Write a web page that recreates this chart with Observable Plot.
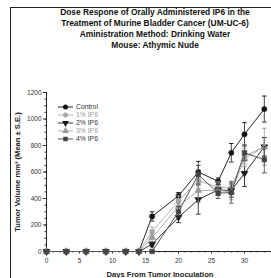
<!DOCTYPE html>
<html><head><meta charset="utf-8">
<script src="https://cdn.jsdelivr.net/npm/d3@7"></script>
<script src="https://cdn.jsdelivr.net/npm/@observablehq/plot@0.6"></script>
<style>
html,body{margin:0;padding:0;background:#fff;overflow:hidden;width:271px;height:278px;}
body{position:relative;font-family:"Liberation Sans",Arial,sans-serif;}
#frame{position:absolute;left:10px;top:7px;width:270px;height:280px;border-left:1px solid #222;border-top:1px solid #222;}
#title{position:absolute;left:40px;width:230px;top:7px;text-align:center;font-weight:bold;font-size:8.4px;line-height:11px;color:#111;}
#chart{position:absolute;left:0;top:52px;}
#ylab{position:absolute;left:17px;top:172px;transform:translate(-50%,-50%) rotate(-90deg);white-space:nowrap;font-weight:bold;font-size:7.6px;color:#222;}
#xlab{position:absolute;left:160px;top:274px;transform:translate(-50%,-50%);white-space:nowrap;font-weight:bold;font-size:7.6px;color:#222;}
#legend{position:absolute;left:58px;top:103px;font-size:6.8px;line-height:8px;}
#legend div{display:flex;align-items:center;height:8px;}
#legend svg{margin-right:3px;}
</style>
</head><body>
<div id="frame"></div>
<div id="title">Dose Respone of Orally Administered IP6 in the<br>Treatment of Murine Bladder Cancer (UM-UC-6)<br>Aministration Method: Drinking Water<br>Mouse: Athymic Nude</div>
<div id="chart"></div>
<div id="ylab">Tumor Volume mm³ (Mean ± S.E.)</div>
<div id="xlab">Days From Tumor Inoculation</div>
<div id="legend"></div>
<script>
const days = [0,3,6,9,12,14,16,20,23,26,28,30,33];
const seriesNames = ["Control","1% IP6","2% IP6","3% IP6","4% IP6"];
const control   = [0,0,0,0,0,0,265,420,600,530,745,885,1075];
const controlSE = [0,0,0,0,0,0,35,25,80,25,70,88,98];
const ip1   = [0,0,0,0,0,0,150,380,535,485,480,720,790];
const ip1SE = [0,0,0,0,0,0,35,40,60,40,50,60,70];
const ip2   = [0,0,0,0,0,0,55,258,392,465,460,590,790];
const ip2SE = [0,0,0,0,0,0,20,40,110,40,50,100,70];
const ip3   = [0,0,0,0,0,0,105,340,460,460,450,700,790];
const ip3SE = [0,0,0,0,0,0,30,40,90,40,60,60,140];
const ip4   = [0,0,0,0,0,0,0,300,580,440,445,745,693];
const ip4SE = [0,0,0,0,0,0,5,40,70,40,80,60,100];
const yTicks = [0,200,400,600,800,1000,1200];
const xTicks = [0,5,10,15,20,25,30,35];

const triDown = {draw(ctx, size){const y=-Math.sqrt(size/(Math.sqrt(3)*3));ctx.moveTo(0,-2*y);ctx.lineTo(-Math.sqrt(3)*y,y);ctx.lineTo(Math.sqrt(3)*y,y);ctx.closePath();}};
const capSym = {draw(ctx, size){const r=Math.sqrt(size/Math.PI);ctx.moveTo(-r,0);ctx.lineTo(r,0);}};
const styles = [
  {color:"#151515", line:"#222", symbol:"circle"},
  {color:"#a8a8a8", line:"#b4b4b4", symbol:"circle"},
  {color:"#151515", line:"#333", symbol:triDown},
  {color:"#999", line:"#b0b0b0", symbol:"triangle"},
  {color:"#444", line:"#555", symbol:"square"}
];
const vals = [control, ip1, ip2, ip3, ip4];
const ses = [controlSE, ip1SE, ip2SE, ip3SE, ip4SE];

const marks = [];
seriesNames.forEach((name, i) => {
  const data = days.map((d, j) => ({day:d, v:vals[i][j], se:ses[i][j]}));
  const eb = data.filter(d => d.se > 0);
  const s = styles[i];
  marks.push(Plot.line(data, {x:"day", y:"v", stroke:s.line, strokeWidth:1}));
  marks.push(Plot.ruleX(eb, {x:"day", y1:d=>d.v-d.se, y2:d=>d.v+d.se, stroke:s.color, strokeWidth:0.8}));
  marks.push(Plot.dot(eb, {x:"day", y:d=>d.v+d.se, symbol:capSym, r:2.3, stroke:s.color, fill:"none", strokeWidth:0.9}));
  marks.push(Plot.dot(eb, {x:"day", y:d=>d.v-d.se, symbol:capSym, r:2.3, stroke:s.color, fill:"none", strokeWidth:0.9}));
  marks.push(Plot.dot(data, {x:"day", y:"v", symbol:s.symbol, r:2.6, fill:s.color, stroke:s.color, strokeWidth:0.5}));
});

const chart = Plot.plot({
  width: 278, height: 226,
  marginLeft: 46, marginRight: 1, marginTop: 40, marginBottom: 27,
  style: {fontFamily:"'Liberation Sans', Arial, sans-serif", maxWidth:"none", overflow:"visible", background:"transparent"},
  x: {domain:[0,35], label: null},
  y: {domain:[0,1200], label: null},
  marks: [
    Plot.axisY({ticks: d3.range(0,1201,50), tickSize: 1.5, tickFormat: () => "", stroke:"#333", label: null}),
    Plot.axisY({ticks: yTicks, tickSize: 3, tickPadding: 2, tickFormat: d => String(d), fontSize: 6.5, fill:"#333", stroke:"#333", label: null}),
    Plot.axisX({ticks: d3.range(0,36,1), tickSize: 1.5, tickFormat: () => "", stroke:"#333", label: null}),
    Plot.axisX({ticks: xTicks, tickSize: 2.5, tickPadding: 4, tickFormat: d => String(d), fontSize: 6.5, fill:"#333", stroke:"#333", label: null}),
    Plot.ruleX([0], {stroke:"#222"}),
    Plot.ruleY([0], {stroke:"#222"}),
    ...marks
  ]
});
document.getElementById("chart").appendChild(chart);

const leg = document.getElementById("legend");
seriesNames.forEach((name, i) => {
  const s = styles[i];
  const row = document.createElement("div");
  const sym = typeof s.symbol === "string" ? {circle:d3.symbolCircle, triangle:d3.symbolTriangle, square:d3.symbolSquare}[s.symbol] : s.symbol;
  const path = d3.symbol(sym, 20)();
  row.innerHTML = `<svg width="15" height="8"><line x1="0" x2="15" y1="4" y2="4" stroke="${s.line}" stroke-width="1"/><path transform="translate(7.5,4)" d="${path}" fill="${s.color}"/></svg><span style="color:${i===1||i===3?'#999':'#333'}">${name}</span>`;
  leg.appendChild(row);
});
</script>
</body></html>
